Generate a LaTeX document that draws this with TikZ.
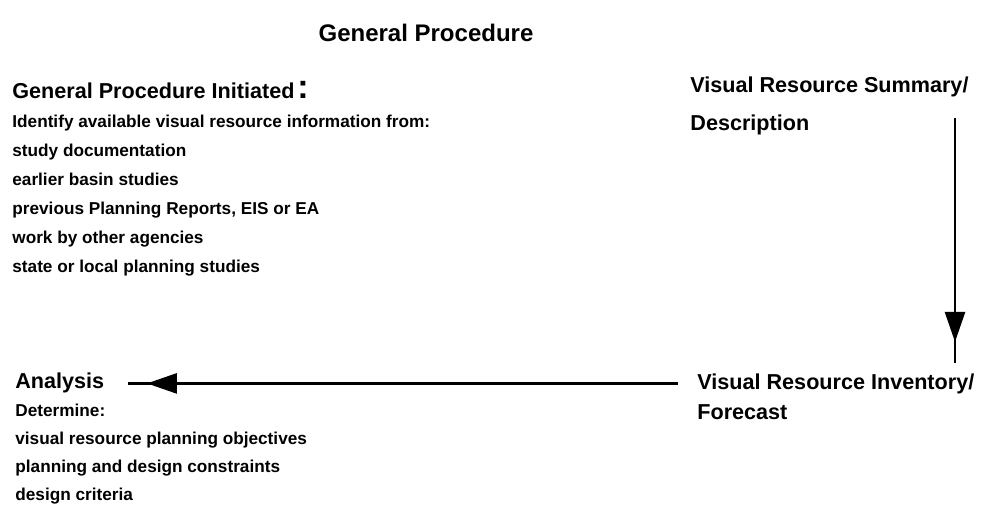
\documentclass[tikz,border=0pt]{standalone}
\usepackage{fontspec}
\setmainfont{Liberation Sans}
\usetikzlibrary{arrows.meta,positioning,decorations.markings}

\begin{document}
\begin{tikzpicture}[x=0.5pt,y=-0.5pt,
  title/.style={font=\bfseries\fontsize{12}{14}\selectfont,inner sep=0pt,anchor=base},
  head/.style={font=\bfseries\fontsize{10.8}{13}\selectfont,inner sep=0pt,anchor=base west},
  item/.style={font=\bfseries\fontsize{8.6}{10}\selectfont,inner sep=0pt,anchor=base west},
  flow/.style={line width=1.3pt,postaction={decorate},
    decoration={markings,mark=at position #1 with {\arrow{Triangle[length=15pt,width=10pt]}}}}]

  \useasboundingbox (0,0) rectangle (984,504);

  \node[title] (title) at (426,41) {General Procedure};

  % first step
  \node[head] (init) at (12,98) {General Procedure Initiated\hspace{1.5pt}{\fontsize{17}{17}\selectfont:}};
  \node[item] (i1) [below=14.5pt of init.base west,anchor=base west] {Identify available visual resource information from:};
  \node[item] (i2) [below=14.5pt of i1.base west,anchor=base west] {study documentation};
  \node[item] (i3) [below=14.5pt of i2.base west,anchor=base west] {earlier basin studies};
  \node[item] (i4) [below=14.5pt of i3.base west,anchor=base west] {previous Planning Reports, EIS or EA};
  \node[item] (i5) [below=14.5pt of i4.base west,anchor=base west] {work by other agencies};
  \node[item] (i6) [below=14.5pt of i5.base west,anchor=base west] {state or local planning studies};

  % summary and inventory
  \node[head] (summary) at (690,92) {Visual Resource Summary/};
  \node[head] (desc) [below=19pt of summary.base west,anchor=base west] {Description};
  \node[head] (inv) at (697,389) {Visual Resource Inventory/};
  \node[head] (fore) [below=15pt of inv.base west,anchor=base west] {Forecast};

  % analysis
  \node[head] (analysis) at (15,388) {Analysis};
  \node[item] (d1) [below=14pt of analysis.base west,anchor=base west] {Determine:};
  \node[item] (d2) [below=14pt of d1.base west,anchor=base west] {visual resource planning objectives};
  \node[item] (d3) [below=14pt of d2.base west,anchor=base west] {planning and design constraints};
  \node[item] (d4) [below=14pt of d3.base west,anchor=base west] {design criteria};

  \coordinate (vtop) at (955,118);
  \coordinate (vbot) at (955,363);

  \draw[flow=0.914] (vtop) -- (vbot);
  \draw[flow=0.965] ([xshift=-9.5pt]inv.west) -- ([xshift=11.5pt]analysis.east |- inv.west);
\end{tikzpicture}
\end{document}
